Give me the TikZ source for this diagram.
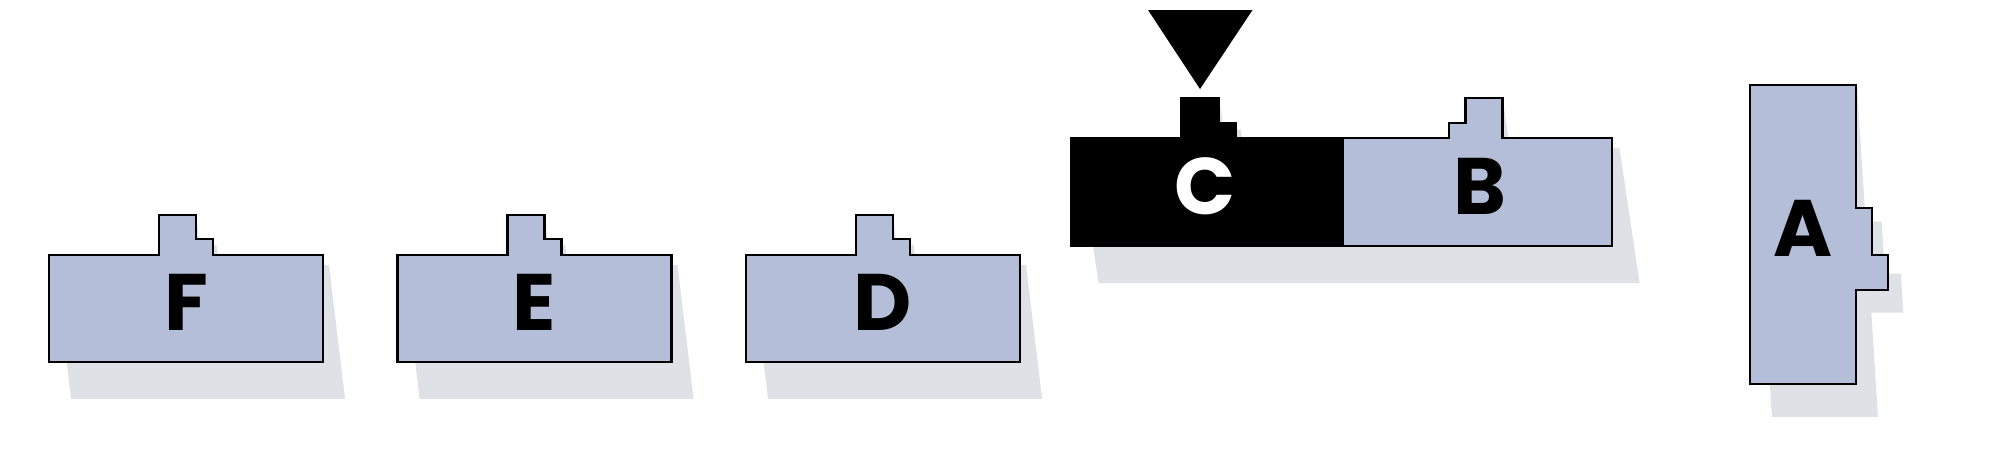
\documentclass[tikz,border=0pt]{standalone}
\usepackage{fontspec}
\newfontfamily\popfont{Poppins}
\definecolor{blockblue}{HTML}{B4BED8}
\definecolor{shadowgray}{HTML}{DEE1E5}
\begin{document}
\begin{tikzpicture}[x=0.05cm,y=-0.05cm,
  blockline/.style={draw=black,line width=4.2pt,line join=miter},
  bluefill/.style={blockline,fill=blockblue},
  blackfill/.style={blockline,fill=black},
  shadowfill/.style={fill=shadowgray,draw=none},
  blocklabel/.style={font=\popfont\bfseries\fontsize{114}{114}\selectfont,anchor=base,inner sep=0pt},
  ]
\useasboundingbox (0,0) rectangle (2000,458);
\def\tabpath{(0,0) -- (110,0) -- (110,-40) -- (147,-40) -- (147,-16) -- (164,-16) -- (164,0) -- (274,0) -- (274,107) -- (0,107) -- cycle}
\def\cbpath{(1071,138) -- (1181,138) -- (1181,98) -- (1219,98) -- (1219,123) -- (1236,123) -- (1236,138) -- (1449,138) -- (1449,123) -- (1465.5,123) -- (1465.5,98) -- (1502.5,98) -- (1502.5,138) -- (1612,138) -- (1612,246) -- (1071,246) -- cycle}
\def\apath{(1750,85) -- (1856,85) -- (1856,208) -- (1872,208) -- (1872,255) -- (1888,255) -- (1888,290) -- (1856,290) -- (1856,384) -- (1750,384) -- cycle}

% F, E, D blocks
\foreach \L/\name in {49/F, 397.5/E, 746/D}{
  \begin{scope}[shift={(\L,255)}]
    \begin{scope}[shift={(0,-40)}, xslant=-0.12, yscale=1.25, shift={(0,40)}]
      \fill[shadowfill] \tabpath;
    \end{scope}
    \draw[bluefill] \tabpath;
    \node[blocklabel] (\name) at (137,75) {\name};
  \end{scope}
}

% C + B shadow
\begin{scope}[shift={(0,98)}, xslant=-0.149, yscale=1.25, shift={(0,-98)}]
  \fill[shadowfill] \cbpath;
\end{scope}
% A shadow
\begin{scope}[shift={(1,85)}, xslant=-0.063, yscale=1.11, shift={(0,-85)}]
  \fill[shadowfill] \apath;
\end{scope}

% C block
\draw[blackfill] (1071,138) -- (1181,138) -- (1181,98) -- (1219,98) -- (1219,123) -- (1236,123) -- (1236,138) -- (1343,138) -- (1343,246) -- (1071,246) -- cycle;
% B block
\draw[bluefill] (1343,138) -- (1449,138) -- (1449,123) -- (1465.5,123) -- (1465.5,98) -- (1502.5,98) -- (1502.5,138) -- (1612,138) -- (1612,246) -- (1343,246) -- cycle;
% A block
\draw[bluefill] \apath;

% pointer triangle
\fill[black] (1148,10) -- (1252.5,10) -- (1200,89) -- cycle;

\node[blocklabel,text=white] (C) at (1205,214) {C};
\node[blocklabel] (B) at (1480,214) {B};
\node[blocklabel] (A) at (1803,256) {A};
\end{tikzpicture}
\end{document}
